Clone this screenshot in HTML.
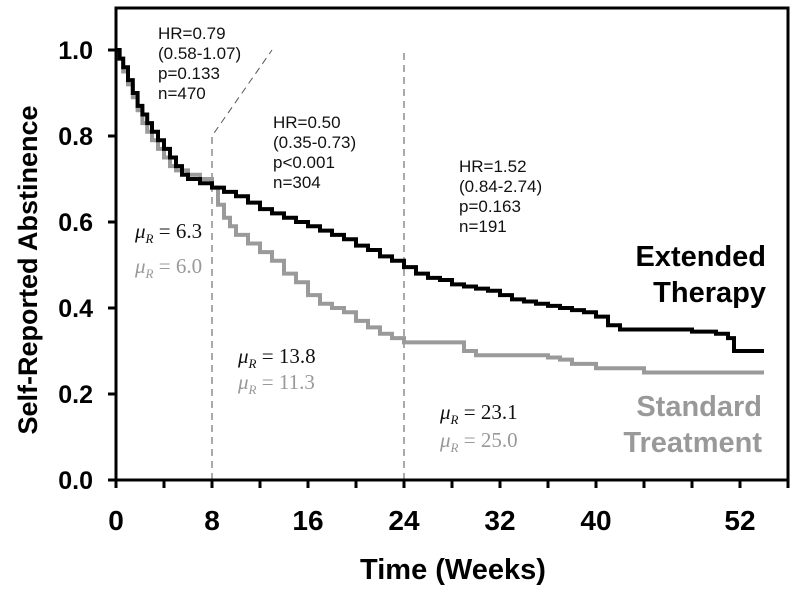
<!DOCTYPE html>
<html><head><meta charset="utf-8"><style>
body{margin:0;background:#fff;width:800px;height:590px;overflow:hidden}
svg{display:block}
.ann{font-family:"Liberation Sans",sans-serif;font-size:17px;fill:#111}
.mu{font-family:"Liberation Serif",serif;font-size:21px}
</style></head><body>
<svg id="chart" width="800" height="590"></svg>
<script>
const extWeeks=[0,0.3,0.6,1,1.4,1.8,2.2,2.6,3,3.5,4,4.5,5,5.5,6,7,8,9,10,11,12,13,14,15,16,17,18,19,20,21,22,23,24,25,26,27,28,29,30,31,32,33,34,35,36,37,38,39,40,41,42,46,48,50,51,51.5,54];
const extVals=[1.0,0.98,0.96,0.93,0.90,0.87,0.85,0.83,0.81,0.79,0.77,0.75,0.73,0.71,0.70,0.69,0.68,0.67,0.66,0.645,0.63,0.62,0.61,0.60,0.59,0.58,0.57,0.56,0.545,0.535,0.52,0.51,0.495,0.48,0.47,0.465,0.455,0.45,0.445,0.44,0.43,0.42,0.415,0.41,0.405,0.40,0.395,0.39,0.38,0.36,0.35,0.35,0.345,0.34,0.33,0.30,0.30];
const stdWeeks=[0,0.3,0.6,1,1.4,1.8,2.2,2.6,3,3.5,4,4.5,5,6,7,8,8.5,9,9.5,10,11,12,13,14,15,16,17,18,19,20,21,22,23,24,28,29,30,36,37,38,40,44,54];
const stdVals=[1.0,0.98,0.95,0.92,0.89,0.86,0.83,0.81,0.79,0.77,0.75,0.73,0.72,0.71,0.70,0.68,0.64,0.61,0.59,0.57,0.55,0.53,0.51,0.48,0.46,0.43,0.41,0.40,0.39,0.37,0.355,0.34,0.33,0.32,0.32,0.30,0.29,0.285,0.28,0.27,0.26,0.25,0.25];
const xTickLabels=[0,8,16,24,32,40,52];
const yTickLabels=[0.0,0.2,0.4,0.6,0.8,1.0];
const X=w=>116+12*w, Y=v=>480-430*v;
const NS="http://www.w3.org/2000/svg", svg=document.getElementById('chart');
function mk(t,a,txt){const e=document.createElementNS(NS,t);for(const k in a)e.setAttribute(k,a[k]);if(txt!=null)e.textContent=txt;svg.appendChild(e);return e;}
let e=mk('path',{d:`M${X(8)} ${Y(0)}V${Y(0.8)}L${X(13)} ${Y(1.0)}M${X(24)} ${Y(0)}V${Y(1.0)}`,stroke:'#555','stroke-width':1,'stroke-dasharray':'7 5',fill:'none'});


function step(ws,vs,col,name){let d=`M${X(ws[0])} ${Y(vs[0])}`;for(let i=1;i<ws.length;i++){d+=`H${X(ws[i])}V${Y(vs[i])}`;}
const p=mk('path',{d,stroke:col,'stroke-width':4,fill:'none'});

}
step(stdWeeks,stdVals,'#9a9a9a','standard-treatment-curve');
step(extWeeks,extVals,'#000','extended-therapy-curve');
e=mk('rect',{x:116,y:8,width:672,height:472,fill:'none',stroke:'#000','stroke-width':3});


for(let w=0;w<=56;w+=4){const t=mk('line',{x1:X(w),x2:X(w),y1:480,y2:488,stroke:'#000','stroke-width':3});

}
xTickLabels.forEach(w=>{const t=mk('text',{x:X(w),y:530,'text-anchor':'middle','font-family':'Liberation Sans,sans-serif','font-weight':'bold','font-size':28},w);

});
yTickLabels.forEach(v=>{const t=mk('line',{x1:108,x2:116,y1:Y(v),y2:Y(v),stroke:'#000','stroke-width':3});


const l=mk('text',{x:93,y:Y(v)+9,'text-anchor':'end','font-family':'Liberation Sans,sans-serif','font-weight':'bold','font-size':25},v.toFixed(1));

});
e=mk('text',{x:453,y:579,'text-anchor':'middle','font-family':'Liberation Sans,sans-serif','font-weight':'bold','font-size':29},'Time (Weeks)');


e=mk('text',{x:0,y:0,transform:'translate(37,270) rotate(-90)','text-anchor':'middle','font-family':'Liberation Sans,sans-serif','font-weight':'bold','font-size':27},'Self-Reported Abstinence');


function block(x,y,lines,name){lines.forEach((s,i)=>{const t=mk('text',{x,y:y+i*20,class:'ann'},s);

});}
block(158,39,['HR=0.79','(0.58-1.07)','p=0.133','n=470'],'hr-period-1');
block(273,128,['HR=0.50','(0.35-0.73)','p<0.001','n=304'],'hr-period-2');
block(459,172,['HR=1.52','(0.84-2.74)','p=0.163','n=191'],'hr-period-3');
function mu(x,y,val,col){const t=mk('text',{x,y,class:'mu',fill:col});


t.innerHTML=`<tspan font-style="italic">μ</tspan><tspan font-style="italic" font-size="13" dy="5">R</tspan><tspan dy="-5"> = ${val}</tspan>`;}
mu(135,238,'6.3','#111');mu(135,273,'6.0','#999');
mu(238,363,'13.8','#111');mu(238,389,'11.3','#999');
mu(440,419,'23.1','#111');mu(440,447,'25.0','#999');
function lg(x,y,lines,col,name){lines.forEach((s,i)=>{const t=mk('text',{x,y:y+i*36,'font-family':'Liberation Sans,sans-serif','font-weight':'bold','font-size':29,fill:col,'text-anchor':'end'},s);

});}
lg(766,266,['Extended','Therapy'],'#000','legend-extended');
lg(762,416,['Standard','Treatment'],'#999','legend-standard');
</script>
</body></html>
